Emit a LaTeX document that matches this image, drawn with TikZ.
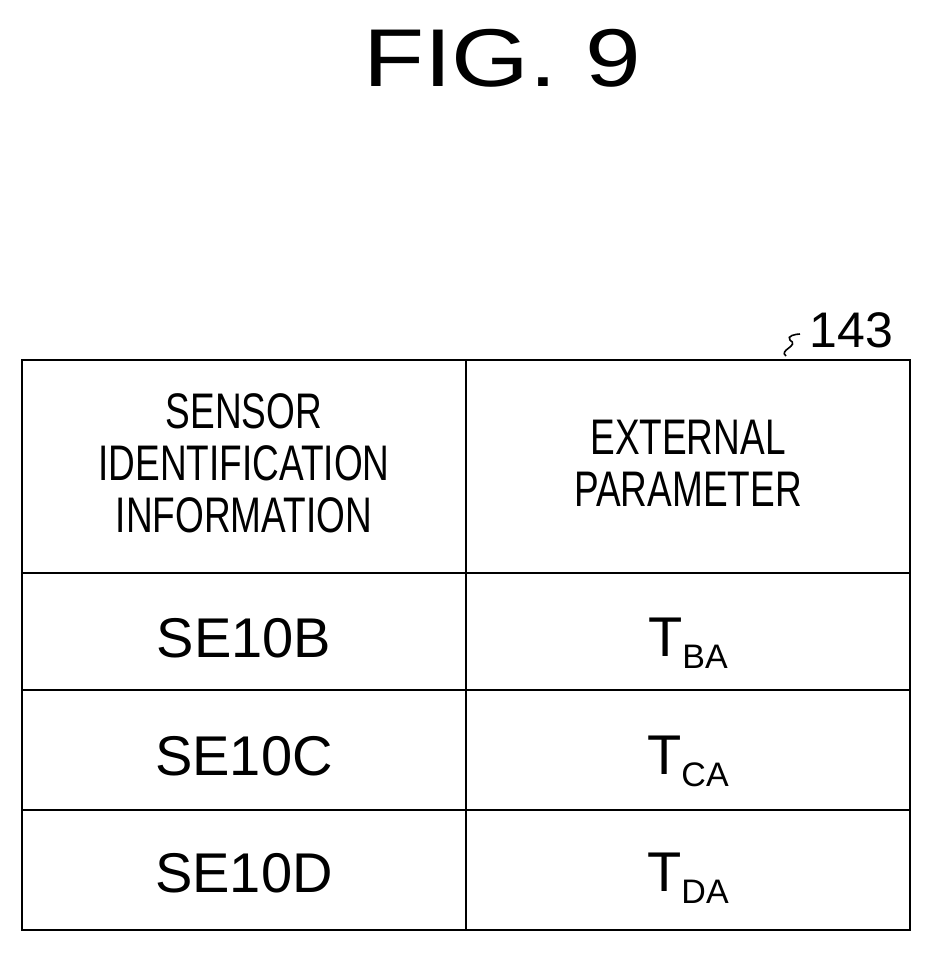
\documentclass[tikz,border=0pt]{standalone}
\usepackage{fontspec}
\setmainfont{Liberation Sans}
\usepackage{graphicx}
\begin{document}
\begin{tikzpicture}[x=1pt,y=-1pt,line width=2.2pt,
  hdr/.style={font=\fontsize{50}{50}\selectfont,align=center},
  cell/.style={font=\fontsize{56}{60}\selectfont},
  lbl/.style={font=\fontsize{50}{50}\selectfont}]
\useasboundingbox (0,0) rectangle (934,953);
\node (title) at (502,58) {\scalebox{1.22}[1]{\fontsize{82}{82}\selectfont FIG.\ 9}};
\draw (22,360) rectangle (910,930);
\draw (466,360) -- (466,930);
\draw (22,573) -- (910,573);
\draw (22,690) -- (910,690);
\draw (22,810) -- (910,810);
\node[hdr] (h1) at (244,470) {\scalebox{0.74}[1]{\begin{tabular}{c}SENSOR\\[2pt]IDENTIFICATION\\[2pt]INFORMATION\end{tabular}}};
\node[hdr] (h2) at (688,470) {\scalebox{0.74}[1]{\begin{tabular}{c}EXTERNAL\\[2pt]PARAMETER\end{tabular}}};
\node[cell] (b) at (244,638) {SE10B};
\node[cell] (c) at (244,756) {SE10C};
\node[cell] (d) at (244,873) {SE10D};
\node[cell] (tb) at (688,643) {T\raisebox{-12pt}{\fontsize{34}{34}\selectfont BA}};
\node[cell] (tc) at (688,761) {T\raisebox{-12pt}{\fontsize{34}{34}\selectfont CA}};
\node[cell] (td) at (688,878) {T\raisebox{-12pt}{\fontsize{34}{34}\selectfont DA}};
\node[lbl,anchor=west] (n143) at (805,330) {143};
\draw[line width=1.6pt] (786,356) .. controls (778,350) and (800,346) .. (790,340) .. controls (786,336) and (796,334) .. (800,334);
\end{tikzpicture}
\end{document}
